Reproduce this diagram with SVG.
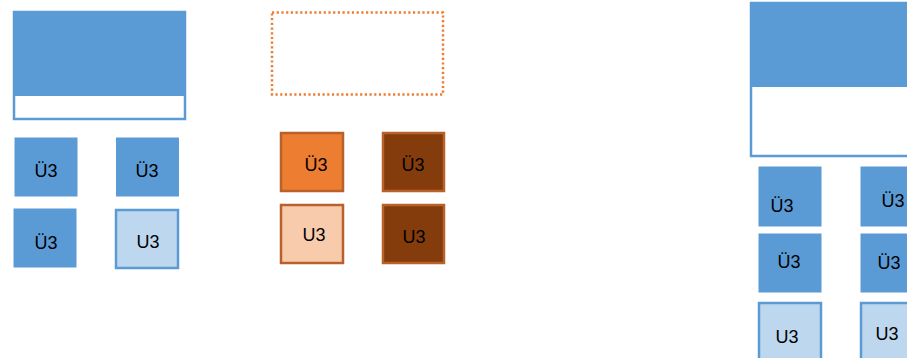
<svg xmlns="http://www.w3.org/2000/svg" width="907" height="358" viewBox="0 0 907 358">
<style>
.b{fill:#5B9BD5;stroke:#ffffff;stroke-width:1}
.lb{fill:#BDD7EE;stroke:#5B9BD5;stroke-width:2.5}
.frame{fill:#ffffff;stroke:#5B9BD5;stroke-width:2.5}
.hd{fill:#5B9BD5}
.o{fill:#ED7D31;stroke:#B8612A;stroke-width:2.5}
.lo{fill:#F8CBAD;stroke:#B8612A;stroke-width:2.5}
.d{fill:#843C0C;stroke:#B8612A;stroke-width:2.5}
.dot{fill:none;stroke:#ED7D31;stroke-width:2.5;stroke-dasharray:2.2 2.5}
text{font-family:"Liberation Sans",Arial,sans-serif;font-size:18px;fill:#000;text-anchor:middle}
</style>
<rect width="907" height="358" fill="#ffffff"/>
<g id="left-container">
<rect class="frame" x="14" y="12" width="171" height="107"/>
<rect class="hd" x="13" y="11" width="173" height="85"/>
</g>
<g id="l1"><rect class="b" x="14" y="137" width="64" height="60"/><text x="46" y="177">Ü3</text></g>
<g id="l2"><rect class="b" x="115.5" y="137" width="64" height="60"/><text x="147" y="177">Ü3</text></g>
<g id="l3"><rect class="b" x="13" y="208" width="64" height="60"/><text x="46" y="249">Ü3</text></g>
<g id="l4"><rect class="lb" x="116" y="210" width="62" height="58"/><text x="148" y="248">U3</text></g>

<g id="mid-container"><rect class="dot" x="272" y="12.5" width="171" height="82"/></g>
<g id="m1"><rect class="o" x="281" y="133" width="62" height="58"/><text x="316" y="171">Ü3</text></g>
<g id="m2"><rect class="d" x="383" y="133" width="61" height="58"/><text x="413" y="171">Ü3</text></g>
<g id="m3"><rect class="lo" x="281" y="205" width="62" height="58"/><text x="314" y="241">U3</text></g>
<g id="m4"><rect class="d" x="383" y="205" width="61" height="58"/><text x="414" y="243">U3</text></g>

<g id="right-container">
<rect class="frame" x="751" y="3" width="170" height="153"/>
<rect class="hd" x="750" y="2" width="172" height="85"/>
</g>
<g id="r1"><rect class="b" x="758" y="166" width="64" height="61"/><text x="782" y="212">Ü3</text></g>
<g id="r2"><rect class="b" x="860" y="166" width="64" height="61"/><text x="893" y="207">Ü3</text></g>
<g id="r3"><rect class="b" x="758" y="233" width="64" height="60"/><text x="789" y="268">Ü3</text></g>
<g id="r4"><rect class="b" x="860" y="233" width="64" height="60"/><text x="889" y="269">Ü3</text></g>
<g id="r5"><rect class="lb" x="759" y="303" width="62" height="62"/><text x="787" y="343">U3</text></g>
<g id="r6"><rect class="lb" x="861" y="303" width="62" height="62"/><text x="887" y="340">U3</text></g>
<g id="connectors"></g>
</svg>
